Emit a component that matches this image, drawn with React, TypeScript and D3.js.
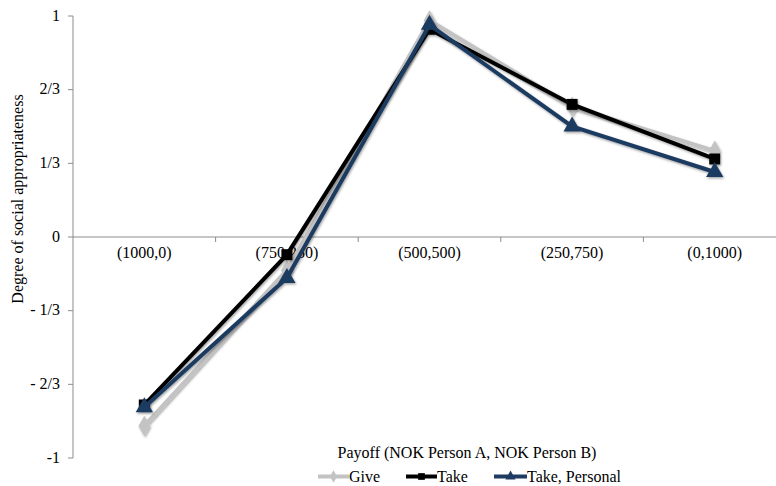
import React from "react";
import * as d3 from "d3";

const categories = ["(1000,0)", "(750,250)", "(500,500)", "(250,750)", "(0,1000)"];
const giveValues = [-0.855, -0.15, 0.98, 0.59, 0.39];
const takeValues = [-0.76, -0.08, 0.94, 0.6, 0.353];
const takePersonalValues = [-0.77, -0.185, 0.96, 0.5, 0.294];
const yTickValues = [-1, -2 / 3, -1 / 3, 0, 1 / 3, 2 / 3, 1];
const yTickLabels = ["-1", "- 2/3", "- 1/3", "0", "1/3", "2/3", "1"];

const W = 776;
const H = 486;
const left = 73;
const top = 16;
const bottom = 458;
const bandW = 142.6;

const x = d3
  .scaleBand<string>()
  .domain(categories)
  .range([left, left + bandW * categories.length]);
const y = d3.scaleLinear().domain([-1, 1]).range([bottom, top]);

const series = [
  { name: "Give", values: giveValues, color: "#c3c3c3", shape: "diamond" },
  { name: "Take", values: takeValues, color: "#000000", shape: "square" },
  { name: "Take, Personal", values: takePersonalValues, color: "#1f3b61", shape: "triangle" },
];

const textStyle: React.CSSProperties = {
  fontFamily: '"Liberation Serif", "Times New Roman", serif',
  fontSize: "16px",
};

function Marker({ shape, cx, cy, color, size }: { shape: string; cx: number; cy: number; color: string; size: number }) {
  const sym =
    shape === "diamond" ? d3.symbolDiamond : shape === "square" ? d3.symbolSquare : d3.symbolTriangle;
  const d = d3.symbol().type(sym).size(size)()!;
  return <path d={d} transform={`translate(${cx},${cy})`} fill={color} />;
}

export default function App() {
  const line = d3
    .line<number>()
    .x((_, i) => (x(categories[i]) as number) + x.bandwidth() / 2)
    .y((v) => y(v));
  const y0 = y(0);
  const legend = [
    { lx: 318, tx: 349 },
    { lx: 406, tx: 437 },
    { lx: 494, tx: 527 },
  ];
  return (
    <svg width={W} height={H} style={{ position: "absolute", left: 0, top: 0 }}>
      <defs>
        <filter id="shadow" x="-50%" y="-50%" width="200%" height="200%">
          <feDropShadow dx="1" dy="1.5" stdDeviation="1" floodColor="#000" floodOpacity="0.35" />
        </filter>
      </defs>
      <rect width={W} height={H} fill="#fff" />
      {/* y axis */}
      <line x1={left} x2={left} y1={top} y2={bottom} stroke="#8c8c8c" strokeWidth={1} />
      {yTickValues.map((v, i) => (
        <g key={i}>
          <line x1={left - 5} x2={left} y1={y(v)} y2={y(v)} stroke="#8c8c8c" />
          <text x={60} y={y(v)} dy="0.3em" textAnchor="end" style={textStyle} fill="#000">
            {yTickLabels[i]}
          </text>
        </g>
      ))}
      {/* x axis at zero */}
      <line x1={left} x2={W} y1={y0} y2={y0} stroke="#8c8c8c" />
      {categories.map((c, i) => (
        <g key={c}>
          {i > 0 && <line x1={x(c)} x2={x(c)} y1={y0} y2={y0 + 5} stroke="#8c8c8c" />}
          <text
            x={(x(c) as number) + x.bandwidth() / 2}
            y={y0 + 21}
            textAnchor="middle"
            style={textStyle}
          >
            {c}
          </text>
        </g>
      ))}
      <text
        transform={`translate(23,199) rotate(-90)`}
        textAnchor="middle"
        style={textStyle}
      >
        Degree of social appropriateness
      </text>
      <text x={467} y={458} textAnchor="middle" style={textStyle}>
        Payoff (NOK Person A, NOK Person B)
      </text>
      {/* series */}
      {series.map((s) => (
        <g key={s.name} filter="url(#shadow)">
          <path d={line(s.values)!} fill="none" stroke={s.color} strokeWidth={4} strokeLinejoin="miter" />
          {s.values.map((v, i) => (
            <Marker
              key={i}
              shape={s.shape}
              cx={(x(categories[i]) as number) + x.bandwidth() / 2}
              cy={y(v)}
              color={s.color}
              size={s.shape === "triangle" ? 130 : 120}
            />
          ))}
        </g>
      ))}
      {/* legend */}
      {series.map((s, i) => (
        <g key={s.name}>
          <line
            x1={legend[i].lx}
            x2={legend[i].tx}
            y1={476.5}
            y2={476.5}
            stroke={s.color}
            strokeWidth={4}
          />
          <Marker
            shape={s.shape}
            cx={(legend[i].lx + legend[i].tx) / 2}
            cy={476.5}
            color={s.color}
            size={45}
          />
          <text x={legend[i].tx} y={482} style={textStyle}>
            {s.name}
          </text>
        </g>
      ))}
    </svg>
  );
}
